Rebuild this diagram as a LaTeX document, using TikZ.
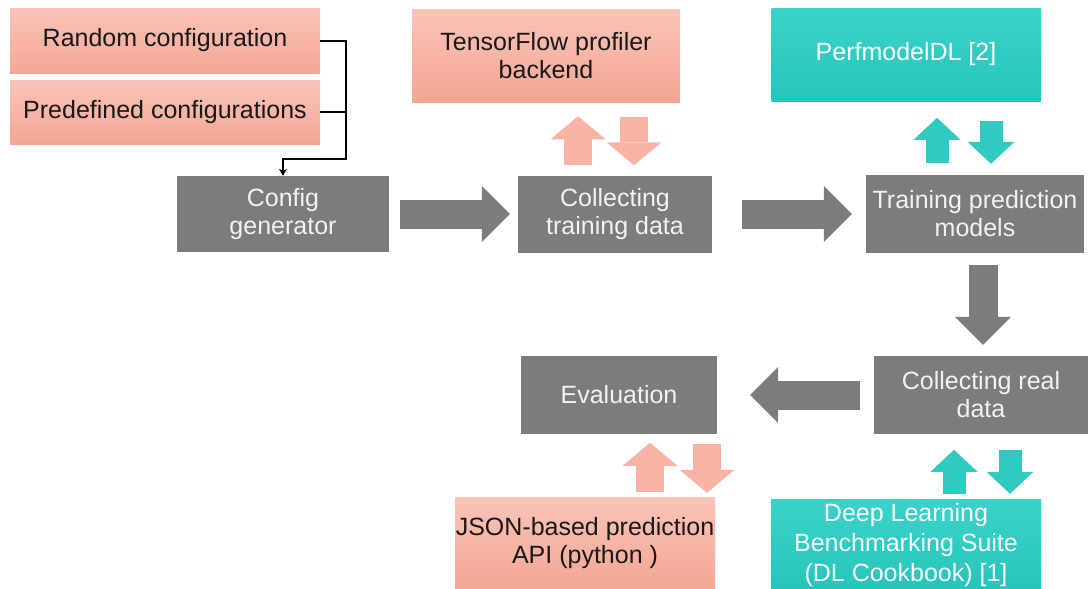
\documentclass[tikz,border=0pt]{standalone}
\usepackage{fontspec}
\setmainfont{Liberation Sans}
\usetikzlibrary{arrows.meta}
\definecolor{boxgray}{HTML}{7B7C7E}
\definecolor{pinktop}{HTML}{F9C4B8}
\definecolor{pinkbot}{HTML}{F4A694}
\definecolor{pinkarr}{HTML}{F8B3A4}
\definecolor{tealtop}{HTML}{3AD3C9}
\definecolor{tealbot}{HTML}{26C5BB}
\definecolor{tealarr}{HTML}{2FCBC2}
\begin{document}
\begin{tikzpicture}[x=1pt, y=-1pt,
	every node/.style={font=\fontsize{25pt}{28pt}\selectfont, align=center, inner sep=0pt},
	graybox/.style={fill=boxgray, text=white!95!black},
	pinkbox/.style={top color=pinktop, bottom color=pinkbot, text=black!90},
	tealbox/.style={top color=tealtop, bottom color=tealbot, text=white},
	bigarrow/.style={draw=boxgray, line width=29pt, -{Triangle[length=28pt,width=56pt,line width=0pt]}},
	pinkarrow/.style={draw=pinkarr, line width=28pt, -{Triangle[length=23pt,width=55pt,line width=0pt]}},
	tealarrow/.style={draw=tealarr, line width=23pt, -{Triangle[length=22pt,width=47pt,line width=0pt]}}]
	\useasboundingbox (0,0) rectangle (1088,589);
	
	\node[pinkbox, minimum width=310pt, minimum height=65pt] (rand) at (165,40.5) {Random configuration};
	\node[pinkbox, minimum width=310pt, minimum height=64pt] (predef) at (165,112) {Predefined configurations};
	\node[graybox, minimum width=212pt, minimum height=76pt] (config) at (283,214) {Config\\generator};
	\node[graybox, minimum width=194pt, minimum height=77pt] (collect) at (615,214) {Collecting\\training data};
	\node[pinkbox, minimum width=268pt, minimum height=93pt] (tfprof) at (546,55.5) {TensorFlow profiler\\backend};
	\node[graybox, minimum width=218pt, minimum height=78pt] (train) at (975,214) {Training prediction\\models};
	\node[tealbox, minimum width=269pt, minimum height=93pt] (perf) at (906,54.5) {PerfmodelDL [2]};
	\node[graybox, minimum width=214pt, minimum height=78pt] (realdata) at (981,395) {Collecting real\\data};
	\node[graybox, minimum width=196pt, minimum height=78pt] (eval) at (619,395) {Evaluation};
	\node[pinkbox, minimum width=260pt, minimum height=92pt] (json) at (585,543) {JSON-based prediction\\API (python )};
	\node[tealbox, minimum width=270pt, minimum height=92pt, font=\fontsize{25pt}{30pt}\selectfont] (dlbs) at (906,545) {Deep Learning\\Benchmarking Suite\\(DL Cookbook) [1]};
	
	\coordinate (bend) at (346,159);
	\draw[line width=2pt, -{Stealth[length=7pt,width=8pt]}] (rand.east) -| (bend) -| (config.north);
	\draw[line width=2pt] (predef.east) -- (predef.east -| bend);
	
	\draw[bigarrow, shorten <=11pt, shorten >=8pt] (config) -- (collect);
	\draw[bigarrow, shorten <=30pt, shorten >=14pt] (collect) -- (train);
	\draw[bigarrow, shorten <=12pt, shorten >=11pt] ([xshift=8pt]train.south) -- ([xshift=2pt]realdata.north);
	\draw[bigarrow, shorten <=14pt, shorten >=33pt] (realdata) -- (eval);
	
	\draw[pinkarrow] ([xshift=-37pt,yshift=10pt]collect.north) -- ++(0,-49);
	\draw[pinkarrow] ([xshift=19pt,yshift=58pt]collect.north) -- ++(0,48);
	\draw[tealarrow] ([xshift=-38pt,yshift=12pt]train.north) -- ++(0,-45);
	\draw[tealarrow] ([xshift=16pt,yshift=54pt]train.north) -- ++(0,43);
	\draw[pinkarrow] ([xshift=65pt,yshift=5pt]json.north) -- ++(0,-49);
	\draw[pinkarrow] ([xshift=122pt,yshift=53pt]json.north) -- ++(0,49);
	\draw[tealarrow] ([xshift=48pt,yshift=5pt]dlbs.north) -- ++(0,-44);
	\draw[tealarrow] ([xshift=104pt,yshift=49pt]dlbs.north) -- ++(0,44);
\end{tikzpicture}
\end{document}
